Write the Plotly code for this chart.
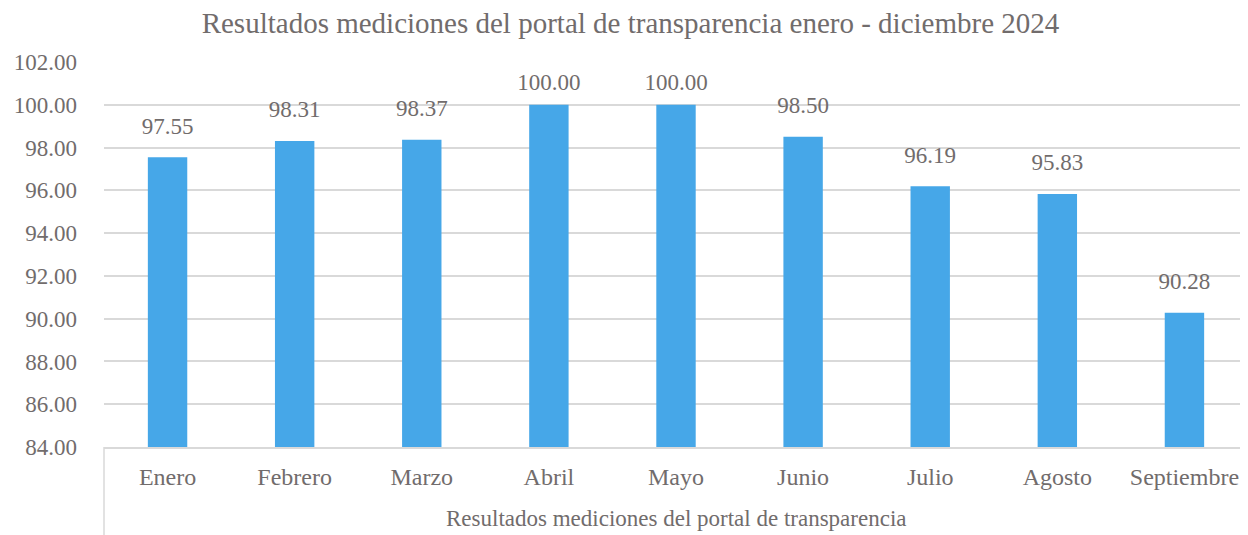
import plotly.graph_objects as go

MONTHS = ["Enero", "Febrero", "Marzo", "Abril", "Mayo", "Junio", "Julio", "Agosto", "Septiembre"]
SCORES = [97.55, 98.31, 98.37, 100.00, 100.00, 98.50, 96.19, 95.83, 90.28]
Y_TICKS = [84, 86, 88, 90, 92, 94, 96, 98, 100, 102]

TITLE = "Resultados mediciones del portal de transparencia enero - diciembre 2024"
GROUP = "Resultados mediciones del portal de transparencia"

FONT = "Liberation Serif, Times New Roman, serif"
GREY = "#716c6c"
GRID = "#d9d9d9"

fig = go.Figure()
fig.add_bar(
    x=MONTHS, y=SCORES,
    marker_color="#46a7e8", marker_line_width=0,
    width=0.31, hoverinfo="x+y",
)
# value labels, lifted above the bar tops by an invisible marker
# (labels near the top edge sit a little lower, as Excel keeps them inside)
lift = [13 if v >= 99.5 else 27 for v in SCORES]
fig.add_scatter(
    x=MONTHS, y=SCORES, mode="markers+text",
    text=[f"{v:.2f}" for v in SCORES], textposition="top center",
    textfont=dict(family=FONT, size=23, color=GREY),
    marker=dict(size=lift, opacity=0), cliponaxis=False, hoverinfo="skip",
)

# the page body has an 8px margin, so the figure is 8px smaller than the window
fig.update_layout(
    width=1240, height=527,
    paper_bgcolor="white", plot_bgcolor="white",
    font=dict(family=FONT, size=23, color=GREY),
    title=dict(text=TITLE, x=0.502, xanchor="center", y=0.972, yanchor="middle",
               font=dict(family=FONT, size=29, color=GREY)),
    margin=dict(l=96, r=0, t=54, b=88, autoexpand=False),
    showlegend=False,
)
fig.update_yaxes(
    range=[84, 102], tickvals=Y_TICKS, ticktext=[f"{v:.2f}" for v in Y_TICKS],
    showgrid=True, gridcolor=GRID, gridwidth=1.5, zeroline=False,
    showline=False, ticks="", ticklabelstandoff=26,
    tickfont=dict(family=FONT, size=23, color=GREY),
)
fig.update_xaxes(
    range=[-0.5, len(MONTHS) - 0.5],
    showline=True, linecolor=GRID, linewidth=1.5, ticks="",
    tickfont=dict(family=FONT, size=24, color=GREY), ticklabelstandoff=7,
)
fig.add_shape(type="line", xref="paper", yref="paper", x0=0, x1=0, y0=0, y1=-0.3,
              line=dict(color=GRID, width=1.5))
fig.add_annotation(text=GROUP, xref="paper", yref="paper", x=0.5, y=-0.187,
                   xanchor="center", yanchor="middle", showarrow=False,
                   font=dict(family=FONT, size=23, color=GREY))

fig.write_html("out.html")
